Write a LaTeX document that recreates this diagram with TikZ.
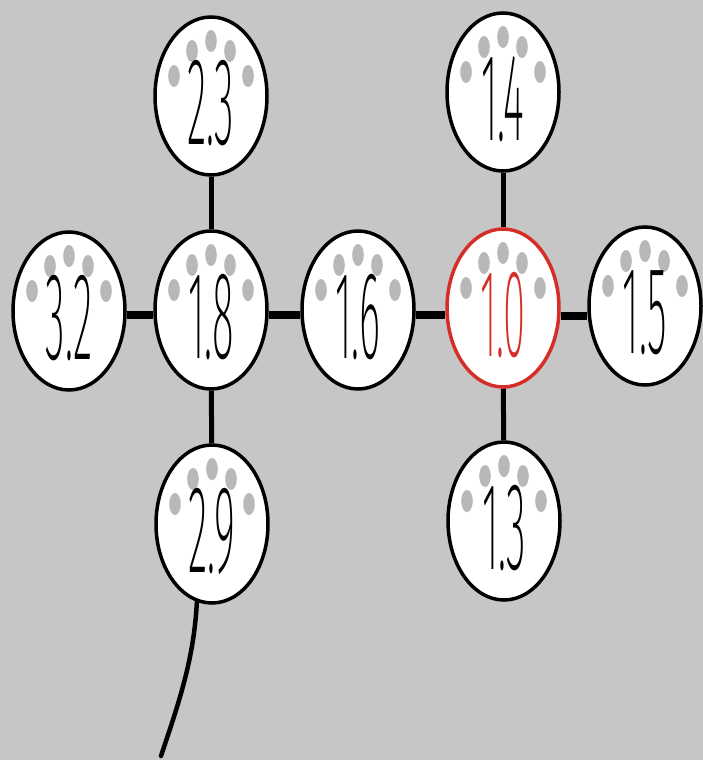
\documentclass[tikz,border=0pt]{standalone}
\usepackage{fontspec}
\newfontfamily\digitfont{Fira Sans ExtraLight}
\usetikzlibrary{shapes.geometric}
\definecolor{bg}{HTML}{C6C6C6}
\definecolor{dotgray}{HTML}{B8B8B8}
\definecolor{redc}{HTML}{D52E28}
\tikzset{
  stone/.style={ellipse, draw=black, line width=3.5pt, fill=white,
    minimum width=112pt, minimum height=158pt, inner sep=0pt},
  hot/.style={draw=redc},
  numtxt/.style={font=\digitfont\fontsize{96}{96}\selectfont, inner sep=0pt, text=black},
  hotnum/.style={text=redc},
  hline/.style={line width=8pt},
  vline/.style={line width=5pt},
  tailline/.style={line width=4.5pt, line cap=round},
  dotmark/.style={fill=dotgray}
}
\newcommand\stonenode[6]{%
  \node[stone,#5] (#1) at (#2,#3) {};
  \foreach \dx/\dy in {0/-55,-19/-45,19/-45,-37/-20,37/-20}
    \fill[dotmark] ([shift={(\dx,\dy)}]#1.center) ellipse (5.8 and 11);
  \node[numtxt,#6] (#1t) at ([shift={(0,7)}]#1.center) {\scalebox{0.42}[1.3]{#4}};
}
\begin{document}
\begin{tikzpicture}[x=1pt,y=-1pt]
  \fill[bg] (0,0) rectangle (703,760);
  \useasboundingbox (0,0) rectangle (703,760);
  % nodes
  \stonenode{n23}{211}{96}{2.3}{}{}
  \stonenode{n18}{211}{310}{1.8}{}{}
  \stonenode{n32}{69}{311}{3.2}{}{}
  \stonenode{n16}{358}{310}{1.6}{}{}
  \stonenode{n10}{503}{308}{1.0}{hot}{hotnum}
  \stonenode{n15}{645}{306}{1.5}{}{}
  \stonenode{n14}{503}{92}{1.4}{}{}
  \stonenode{n13}{504}{521}{1.3}{}{}
  \stonenode{n29}{212}{524}{2.9}{}{}
  \coordinate (tailend) at (161,756);
  % connectors
  \draw[hline] (n32.east |- 0,315) -- (n18.west |- 0,315);
  \draw[hline] (n18.east |- 0,315) -- (n16.west |- 0,315);
  \draw[hline] (n16.east |- 0,315) -- (n10.west |- 0,315);
  \draw[hline] (n10.east |- 0,316) -- (n15.west |- 0,316);
  \draw[vline] (n23) -- (n18);
  \draw[vline] (n18) -- (n29);
  \draw[vline] (n14) -- (n10);
  \draw[vline] (n10) -- (n13);
  \draw[tailline] (n29.259) .. controls (194,660) and (178,705) .. (tailend);
\end{tikzpicture}
\end{document}
